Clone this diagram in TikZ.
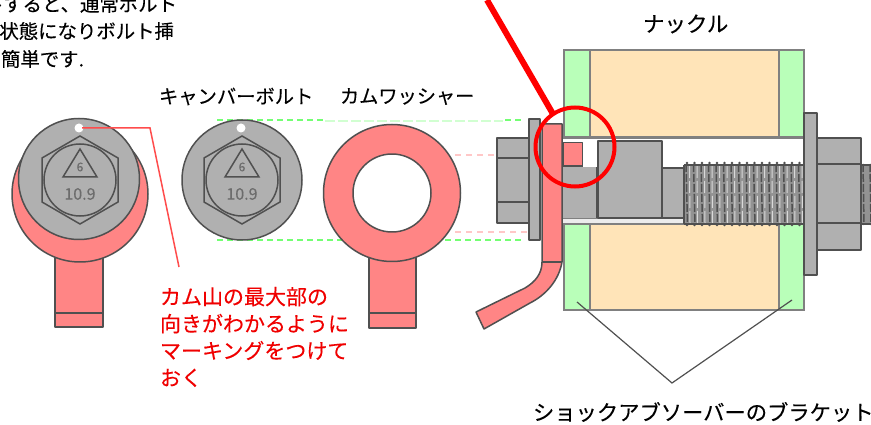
\documentclass[tikz,border=0pt]{standalone}
\usepackage{fontspec}
\newfontfamily\jpfont[FakeBold=0.2]{Noto Sans CJK JP}
\definecolor{camred}{HTML}{FF8585}
\definecolor{plategreen}{HTML}{B9FFB9}
\definecolor{knuckletan}{HTML}{FFE4B8}
\definecolor{steelgray}{HTML}{B0B0B0}
\definecolor{edgegray}{HTML}{505050}
\definecolor{textred}{HTML}{F00000}
\tikzset{
  partline/.style={draw=edgegray,line width=1.5pt,line join=round},
  camshape/.style={partline,fill=camred},
  steel/.style={partline,fill=steelgray},
  plateshape/.style={draw=gray,line width=1.5pt,fill=plategreen},
  tanshape/.style={draw=gray,line width=1.5pt,fill=knuckletan},
  edgeline/.style={draw=edgegray,line width=1.5pt},
  txt/.style={inner sep=0pt,outer sep=0pt,font=\jpfont,text=black},
  greendash/.style={draw=green!55!white,line width=1.8pt,dash pattern=on 6pt off 4pt},
  faintgreen/.style={draw=green!18!white,line width=1.2pt,dash pattern=on 10pt off 3pt},
  pinkdash/.style={draw=red!22!white,line width=1.6pt,dash pattern=on 6pt off 5pt},
  leaderred/.style={draw=red!70!white,line width=1.5pt},
  leaderline/.style={draw=edgegray,line width=1.2pt},
}
\begin{document}
\begin{tikzpicture}[x=1pt,y=-1pt]
\useasboundingbox (0,0) rectangle (871,425);
\clip (0,0) rectangle (871,425);
\fill[white] (0,0) rectangle (871,425);

% dashed projection lines
\draw[greendash] (217,120) -- (324,120);
\draw[faintgreen] (325,121) -- (503,121);
\draw[greendash] (505,120) -- (522,120);
\draw[greendash] (217,240) -- (345,240);
\draw[greendash] (445,240) -- (522,240);
\draw[pinkdash] (455,155) -- (530,155);
\draw[pinkdash] (455,232) -- (530,232);

% left: washer behind bolt
\draw[camshape] (55,250) rectangle (103,327);
\draw[edgeline] (55,313) -- (103,313);
\draw[camshape] (80,194) circle[radius=68];
\draw[steel] (79,179) circle[radius=60.5];
\fill[white] (79,128) circle[radius=4.5];
\draw[edgeline] (80,136) -- (118,158) -- (118,202) -- (80,224) -- (42,202) -- (42,158) -- cycle;
\draw[edgeline] (80,180) circle[radius=36];
\draw[edgeline] (80,149) -- (97,177) -- (63,177) -- cycle;
\node[txt,font=\jpfont\fontsize{12}{12}\selectfont,text=gray!85!black] (sixa) at (80,167) {6};
\node[txt,font=\jpfont\fontsize{16}{16}\selectfont,text=gray!85!black] (gradea) at (80,194) {10.9};

% middle: bolt
\draw[steel] (242,180) circle[radius=60];
\fill[white] (241,128) circle[radius=4.5];
\draw[edgeline] (242,136) -- (280,158) -- (280,202) -- (242,224) -- (204,202) -- (204,158) -- cycle;
\draw[edgeline] (242,180) circle[radius=36];
\draw[edgeline] (242,149) -- (259,177) -- (225,177) -- cycle;
\node[txt,font=\jpfont\fontsize{12}{12}\selectfont,text=gray!85!black] (sixb) at (242,167) {6};
\node[txt,font=\jpfont\fontsize{16}{16}\selectfont,text=gray!85!black] (gradeb) at (242,194) {10.9};

% middle: cam washer
\draw[camshape] (369,250) rectangle (416,328);
\draw[edgeline] (369,313) -- (416,313);
\draw[camshape,even odd rule] (392,193) circle[radius=68.5] (392,193) circle[radius=39];

% right: knuckle and brackets
\draw[tanshape] (590,50) rectangle (779,137);
\draw[tanshape] (590,224) rectangle (779,310);
\draw[plateshape] (564,50) rectangle (590,137);
\draw[plateshape] (779,50) rectangle (804,137);
\draw[plateshape] (564,224) rectangle (590,310);
\draw[plateshape] (779,224) rectangle (804,310);

% right: bolt body
\draw[draw=gray,line width=1.5pt] (563,138) -- (804,138);
\fill[steelgray] (562,166) rectangle (598,219);
\draw[edgeline] (597,167) -- (597,219);
\fill[white!85!gray] (562,219) rectangle (688,224);
\draw[draw=gray,line width=1pt] (562,219) -- (688,219) (562,224) -- (688,224);
\draw[steel] (598,141) rectangle (662,218);
\draw[steel] (662,168) rectangle (684,218);
% threads
\fill[gray!85!white] (684,165) rectangle (804,224);
\foreach \xx in {686,693.5,...,802}{
  \draw[edgegray,line width=1.5pt,dash pattern=on 8pt off 2pt] (\xx,164) -- (\xx+1.5,225);
  \draw[gray!30!white,line width=1pt,dash pattern=on 12pt off 3pt] (\xx+3.5,166) -- (\xx+4,223);
  \fill[edgegray] (\xx+1,163) circle[radius=1.4] (\xx+1,225) circle[radius=1.4];
}
\draw[edgegray,line width=1.2pt] (684,165) -- (804,165) (684,224) -- (804,224) (684,165) -- (684,224);
\fill[gray!85!white] (861,165) rectangle (871,224);
\foreach \xx in {863,870}{
  \draw[edgegray,line width=1.5pt,dash pattern=on 8pt off 2pt] (\xx,164) -- (\xx+1,225);
}
\draw[edgegray,line width=1.2pt] (861,165) -- (871,165) (861,224) -- (871,224);

% red square and slot
\fill[white] (582,143) rectangle (597,167);
\draw[camshape,line width=1pt] (563,143) rectangle (582,166);
\draw[edgegray,line width=2pt] (563,166) -- (583,166);

% left nut, washer, cam section
\draw[steel] (497,138) rectangle (530,223);
\draw[edgeline] (497,158) -- (530,158) (497,202) -- (530,202);
\draw[steel] (529,119) rectangle (540,240);
\path[camshape] (542,124) -- (562,124) -- (562,262)
  .. controls (559,280) and (546,295) .. (530,303) -- (484,329) -- (476,312) -- (525,288)
  .. controls (535,282) and (542,274) .. (542,262) -- cycle;
\draw[edgeline] (542,262) -- (562,262);

% right washer and nut
\draw[steel] (804,113) rectangle (817,275);
\draw[steel] (817,138) rectangle (861,250);
\draw[edgeline] (817,164) -- (861,164) (817,223) -- (861,223);

% highlight
\coordinate (pointerstart) at (487,0);
\coordinate (pointerend) at (553,114);
\draw[red,line width=6pt] (pointerstart) -- (pointerend);
\node[draw=red,line width=4pt,circle,minimum size=79pt,inner sep=0pt] (detail) at (575,147) {};

% leaders
\coordinate (marka) at (82,128);
\coordinate (markb) at (150,128);
\coordinate (markc) at (179,267);
\draw[leaderred] (marka) -- (markb) -- (markc);
\coordinate (apex) at (672,383);
\coordinate (bracketa) at (577,302);
\coordinate (bracketb) at (792,300);
\draw[leaderline] (bracketa) -- (apex) -- (bracketb);

% texts
\node[txt,anchor=east,font=\jpfont\fontsize{19.4}{19}\selectfont] (introa) at (177,4) {下すると、通常ボルト};
\node[txt,anchor=east,font=\jpfont\fontsize{19.4}{19}\selectfont] (introb) at (174,31) {状態になりボルト挿};
\node[txt,anchor=west,font=\jpfont\fontsize{19.4}{19}\selectfont] (introc) at (1,59) {簡単です.};
\node[txt,anchor=west,font=\jpfont\fontsize{19.3}{19}\selectfont] (boltlabel) at (159,96.5) {キャンバーボルト};
\node[txt,anchor=west,font=\jpfont\fontsize{19.2}{19}\selectfont] (camlabel) at (340,96.5) {カムワッシャー};
\node[txt,anchor=west,font=\jpfont\fontsize{21.5}{21}\selectfont] (knuckle) at (643,24) {ナックル};
\node[txt,anchor=west,font=\jpfont\fontsize{21.3}{21}\selectfont] (bracket) at (533,412) {ショックアブソーバーのブラケット};
\node[txt,anchor=north west,align=left,text=textred,font=\jpfont\fontsize{21}{27}\selectfont] (note) at (160,287) {カム山の最大部の\\向きがわかるように\\マーキングをつけて\\おく};
\end{tikzpicture}
\end{document}
